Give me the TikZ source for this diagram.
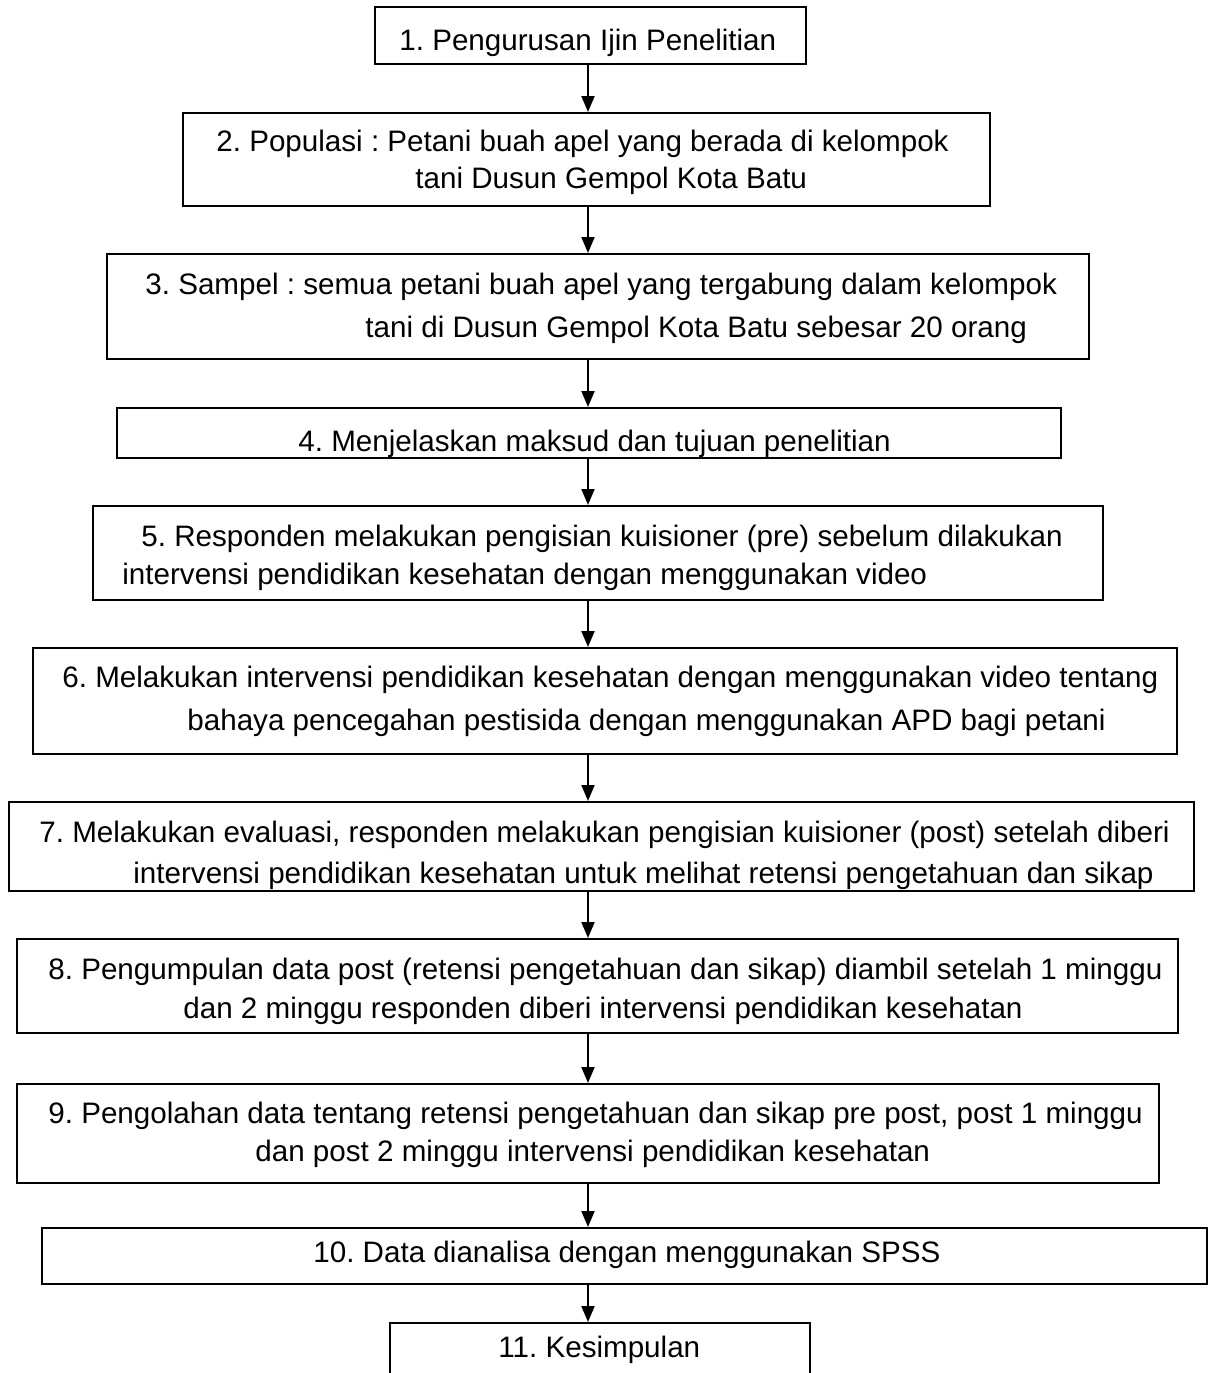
\documentclass[tikz,border=0pt]{standalone}
\usepackage{fontspec}
\setmainfont{Liberation Sans}
\usetikzlibrary{arrows.meta,fit}
\frenchspacing

\tikzset{
  box/.style={draw, line width=1pt, inner sep=0pt},
  txt/.style={anchor=base west, inner sep=0pt, font=\fontsize{14.8}{18}\selectfont},
  arr/.style={line width=1pt, -{Triangle[length=8pt,width=6.5pt]}}
}

\begin{document}
\begin{tikzpicture}[x=0.5pt,y=-0.5pt]
\useasboundingbox (0,0) rectangle (1211,1373);
\clip (0,0) rectangle (1211,1373);
\fill[white] (0,0) rectangle (1211,1373);
\coordinate (ax) at (588,0);
%
\node[box, fit={(375,7) (806,64)}] (b1) {};
\node[box, fit={(183,113) (990,206)}] (b2) {};
\node[box, fit={(107,254) (1089,359)}] (b3) {};
\node[box, fit={(117,408) (1061,458)}] (b4) {};
\node[box, fit={(93,506) (1103,600)}] (b5) {};
\node[box, fit={(33,648) (1177,754)}] (b6) {};
\node[box, fit={(9,802) (1194,891)}] (b7) {};
\node[box, fit={(17,939) (1178,1033)}] (b8) {};
\node[box, fit={(17,1084) (1159,1183)}] (b9) {};
\node[box, fit={(42,1228) (1207,1284)}] (b10) {};
\node[box, fit={(390,1323) (810,1420)}] (b11) {};
%
\node[txt] (t1) at (399,50) {1. Pengurusan Ijin Penelitian};
\node[txt] (t2a) at (216,151) {2. Populasi : Petani buah apel yang berada di kelompok};
\node[txt] (t2b) at (415,188) {tani Dusun Gempol Kota Batu};
\node[txt] (t3a) at (145,294) {3. Sampel : semua petani buah apel yang tergabung dalam kelompok};
\node[txt] (t3b) at (365,337) {tani di Dusun Gempol Kota Batu sebesar 20 orang};
\node[txt] (t4) at (298,451) {4. Menjelaskan maksud dan tujuan penelitian};
\node[txt] (t5a) at (141,546) {5. Responden melakukan pengisian kuisioner (pre) sebelum dilakukan};
\node[txt] (t5b) at (122,584) {intervensi pendidikan kesehatan dengan menggunakan video};
\node[txt] (t6a) at (62,687) {6. Melakukan intervensi pendidikan kesehatan dengan menggunakan video tentang};
\node[txt] (t6b) at (187,730) {bahaya pencegahan pestisida dengan menggunakan APD bagi petani};
\node[txt] (t7a) at (39,842) {7. Melakukan evaluasi, responden melakukan pengisian kuisioner (post) setelah diberi};
\node[txt] (t7b) at (133,883) {intervensi pendidikan kesehatan untuk melihat retensi pengetahuan dan sikap};
\node[txt] (t8a) at (48,979) {8. Pengumpulan data post (retensi pengetahuan dan sikap) diambil setelah 1 minggu};
\node[txt] (t8b) at (183,1018) {dan 2 minggu responden diberi intervensi pendidikan kesehatan};
\node[txt] (t9a) at (48,1123) {9. Pengolahan data tentang retensi pengetahuan dan sikap pre post, post 1 minggu};
\node[txt] (t9b) at (255,1161) {dan post 2 minggu intervensi pendidikan kesehatan};
\node[txt] (t10) at (313,1262) {10. Data dianalisa dengan menggunakan SPSS};
\node[txt] (t11) at (498,1357) {11. Kesimpulan};
%
\foreach \a/\b in {b1/b2,b2/b3,b3/b4,b4/b5,b5/b6,b6/b7,b7/b8,b8/b9,b9/b10,b10/b11}
  \draw[arr] (\a.south -| ax) -- (\b.north -| ax);
\end{tikzpicture}
\end{document}
